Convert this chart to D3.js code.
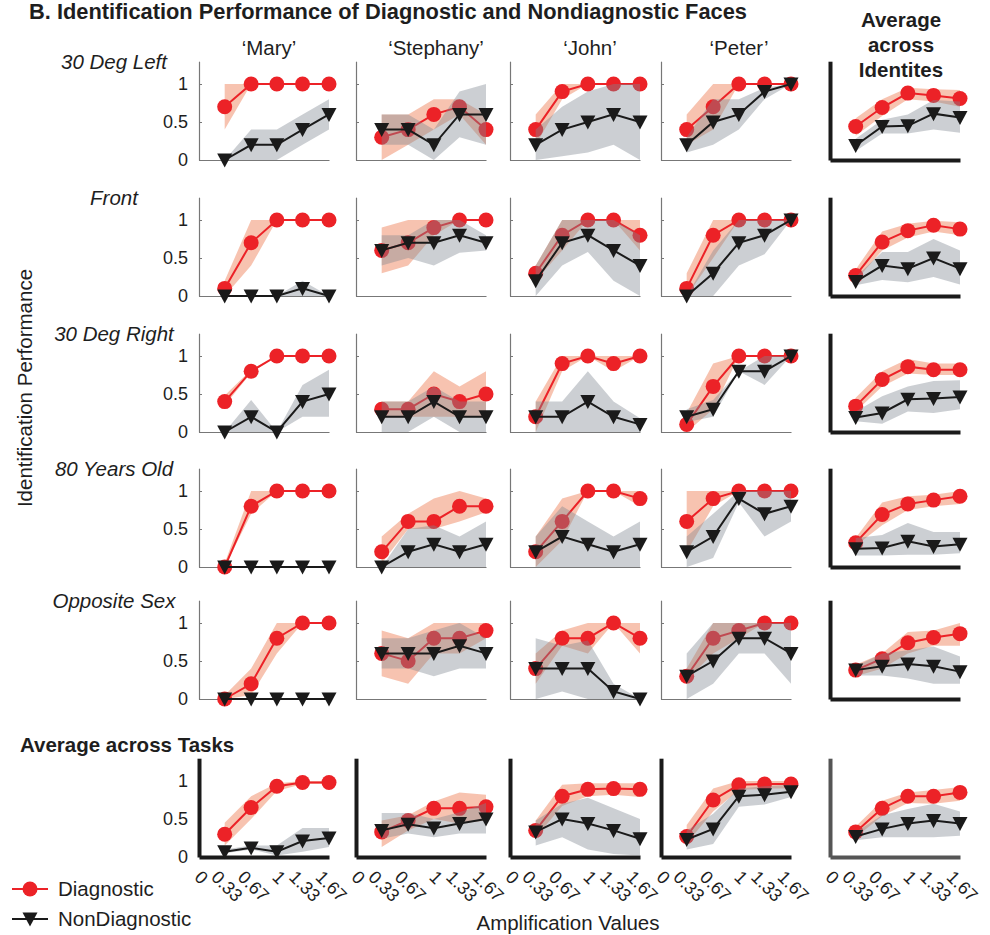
<!DOCTYPE html>
<html>
<head>
<meta charset="utf-8">
<script src="https://cdn.jsdelivr.net/npm/d3@7"></script>
<style>
body { margin: 0; background: #fff; }
text { font-family: "Liberation Sans", Arial, Helvetica, sans-serif; fill: #1e1e1e; }
</style>
</head>
<body>
<div id="chart"></div>
<script>
// amplification values (x) and tick labels
const ampValues = [0.33, 0.67, 1, 1.33, 1.67];
const ampTicks = [0, 0.33, 0.67, 1, 1.33, 1.67];
const ampTickLabels = ["0", "0.33", "0.67", "1", "1.33", "1.67"];
const perfTicks = [0, 0.5, 1];

const identities = ["\u2018Mary\u2019", "\u2018Stephany\u2019", "\u2018John\u2019", "\u2018Peter\u2019"];
const tasks = ["30 Deg Left", "Front", "30 Deg Right", "80 Years Old", "Opposite Sex"];

// [task row][identity col: Mary, Stephany, John, Peter, Average][amplification]
const diagMean = [
  [[0.7,1,1,1,1],[0.3,0.4,0.6,0.7,0.4],[0.4,0.9,1,1,1],[0.4,0.7,1,1,1],[0.44,0.69,0.88,0.85,0.81]],
  [[0.1,0.7,1,1,1],[0.6,0.7,0.9,1,1],[0.3,0.8,1,1,0.8],[0.1,0.8,1,1,1],[0.27,0.71,0.86,0.93,0.88]],
  [[0.4,0.8,1,1,1],[0.3,0.3,0.5,0.4,0.5],[0.2,0.9,1,0.9,1],[0.1,0.6,1,1,1],[0.34,0.69,0.86,0.82,0.82]],
  [[0,0.8,1,1,1],[0.2,0.6,0.6,0.8,0.8],[0.2,0.6,1,1,0.9],[0.6,0.9,1,1,1],[0.32,0.69,0.83,0.88,0.93]],
  [[0,0.2,0.8,1,1],[0.6,0.5,0.8,0.8,0.9],[0.4,0.8,0.8,1,0.8],[0.3,0.8,0.9,1,1],[0.38,0.53,0.74,0.81,0.86]],
  [[0.3,0.65,0.93,0.98,0.98],[0.33,0.48,0.64,0.64,0.66],[0.35,0.8,0.89,0.9,0.89],[0.27,0.75,0.95,0.96,0.96],[0.33,0.64,0.8,0.8,0.85]]
];
const diagLo = [
  [[0.4,1,1,1,1],[0,0.2,0.4,0.6,0.2],[0.2,0.8,1,1,1],[0.2,0.4,1,1,1],[0.32,0.58,0.8,0.77,0.7]],
  [[0,0.4,1,1,1],[0.3,0.4,0.8,1,1],[0.2,0.6,1,1,0.6],[0,0.5,1,1,1],[0.2,0.6,0.77,0.85,0.8]],
  [[0.35,0.78,1,1,1],[0.2,0.2,0.2,0.2,0.2],[0,0.8,1,0.8,1],[0,0.3,1,1,1],[0.27,0.6,0.77,0.75,0.75]],
  [[0,0.7,1,1,1],[0.05,0.5,0.5,0.6,0.72],[0,0.35,1,1,0.8],[0.2,0.8,1,1,1],[0.28,0.55,0.75,0.8,0.83]],
  [[0,0.05,0.6,1,1],[0.3,0.2,0.6,0.6,0.8],[0.2,0.7,0.6,1,0.6],[0.25,0.6,0.8,1,1],[0.3,0.4,0.6,0.7,0.7]],
  [[0.15,0.5,0.87,0.96,0.96],[0.13,0.35,0.5,0.44,0.48],[0.26,0.67,0.8,0.82,0.79],[0.18,0.6,0.88,0.9,0.9],[0.26,0.54,0.71,0.7,0.74]]
];
const diagHi = [
  [[1,1,1,1,1],[0.6,0.6,0.8,0.8,0.6],[0.6,1,1,1,1],[0.6,1,1,1,1],[0.55,0.8,0.95,0.93,0.92]],
  [[0.2,1,1,1,1],[0.9,1,1,1,1],[0.4,1,1,1,1],[0.3,1,1,1,1],[0.35,0.85,0.95,0.99,0.97]],
  [[0.48,0.82,1,1,1],[0.4,0.4,0.8,0.6,0.8],[0.4,1,1,1,1],[0.25,0.9,1,1,1],[0.45,0.8,0.96,0.9,0.9]],
  [[0.05,1,1,1,1],[0.4,0.7,0.9,1,0.9],[0.4,0.9,1,1,1],[1,1,1,1,1],[0.38,0.85,0.93,0.95,1]],
  [[0.05,0.4,1,1,1],[0.9,0.8,1,1,1],[0.6,0.9,1,1,1],[0.4,1,1,1,1],[0.45,0.6,0.88,0.9,1]],
  [[0.45,0.8,0.97,1,1],[0.48,0.55,0.73,0.85,0.82],[0.48,0.95,0.97,0.97,0.97],[0.42,0.9,1,1,1],[0.4,0.74,0.85,0.88,0.92]]
];
const nonMean = [
  [[0,0.2,0.2,0.4,0.6],[0.4,0.4,0.2,0.6,0.6],[0.2,0.4,0.5,0.6,0.5],[0.2,0.5,0.6,0.9,1],[0.19,0.44,0.45,0.61,0.56]],
  [[0,0,0,0.1,0],[0.6,0.7,0.7,0.8,0.7],[0.2,0.7,0.8,0.6,0.4],[0,0.3,0.7,0.8,1],[0.19,0.4,0.36,0.5,0.36]],
  [[0,0.2,0,0.4,0.5],[0.2,0.2,0.4,0.2,0.2],[0.2,0.2,0.4,0.2,0.1],[0.2,0.3,0.8,0.8,1],[0.19,0.25,0.43,0.44,0.46]],
  [[0,0,0,0,0],[0,0.2,0.3,0.2,0.3],[0.2,0.4,0.3,0.2,0.3],[0.2,0.4,0.9,0.7,0.8],[0.24,0.25,0.34,0.27,0.3]],
  [[0,0,0,0,0],[0.6,0.6,0.6,0.7,0.6],[0.4,0.4,0.4,0.1,0],[0.3,0.5,0.8,0.8,0.6],[0.38,0.43,0.46,0.43,0.36]],
  [[0.07,0.12,0.07,0.21,0.25],[0.35,0.43,0.38,0.44,0.5],[0.33,0.5,0.44,0.35,0.24],[0.23,0.37,0.8,0.82,0.86],[0.27,0.37,0.44,0.48,0.44]]
];
const nonLo = [
  [[0,0,0,0.2,0.4],[0.2,0.2,0,0.3,0.2],[0,0.05,0.1,0.2,0],[0.1,0.2,0.4,0.8,1],[0.12,0.35,0.35,0.4,0.36]],
  [[0,0,0,0,0],[0.4,0.5,0.4,0.57,0.6],[0,0.4,0.58,0.2,0],[0,0,0.4,0.55,1],[0.14,0.21,0.18,0.25,0.15]],
  [[0,0,0,0.2,0.2],[0,0,0.2,0,0],[0,0,0,0,0],[0.13,0.2,0.8,0.62,1],[0.14,0.11,0.27,0.25,0.3]],
  [[0,0,0,0,0],[0,0,0,0,0],[0,0,0,0,0],[0,0.12,0.85,0.4,0.6],[0.15,0.15,0.16,0.16,0.18]],
  [[0,0,0,0,0],[0.4,0.4,0.3,0.4,0.4],[0,0.1,0,0,0],[0,0.2,0.6,0.6,0.2],[0.31,0.31,0.27,0.2,0.2]],
  [[0.05,0.1,0.02,0.07,0.13],[0.24,0.31,0.26,0.31,0.31],[0.15,0.26,0.1,0.04,0.02],[0.1,0.17,0.66,0.69,0.79],[0.22,0.26,0.26,0.26,0.28]]
];
const nonHi = [
  [[0,0.4,0.4,0.6,0.8],[0.6,0.6,0.4,0.9,1],[0.4,0.7,0.9,1,1],[0.3,0.8,0.8,0.95,1],[0.28,0.53,0.6,0.79,0.77]],
  [[0,0,0,0.2,0],[0.8,0.8,1,1,0.8],[0.4,1,1,1,0.8],[0,0.6,1,1,1],[0.25,0.58,0.58,0.75,0.6]],
  [[0,0.42,0,0.62,0.82],[0.4,0.4,0.6,0.4,0.4],[0.4,0.4,0.8,0.4,0.18],[0.3,0.42,0.8,1,1],[0.27,0.47,0.6,0.67,0.68]],
  [[0,0,0,0,0],[0,0.5,0.55,0.4,0.6],[0.4,0.8,0.6,0.4,0.6],[0.4,0.7,1,1,1],[0.38,0.42,0.58,0.46,0.46]],
  [[0,0,0,0,0],[0.8,0.8,0.9,1,0.8],[0.8,0.7,0.77,0.2,0],[0.6,1,1,1,1],[0.43,0.6,0.64,0.69,0.56]],
  [[0.1,0.15,0.15,0.38,0.38],[0.58,0.58,0.5,0.59,0.71],[0.48,0.7,0.78,0.64,0.5],[0.35,0.57,0.9,0.93,0.95],[0.33,0.55,0.63,0.7,0.6]]
];

// layout
const W = 990, H = 935;
const colLeft = [199, 356, 510, 661, 830];
const rowBase = [160, 296, 432, 567, 699, 857];
const panelW = 130, panelH = 98.8;
const titleShift = [5, 15, 15, 13];

const red = "#ec2227", black = "#1a1a1a";

const svg = d3.select("#chart").append("svg").attr("width", W).attr("height", H);

const x = d3.scaleLinear().domain([0, 1.67]).range([0, panelW]);
const y = d3.scaleLinear().domain([0, 1.3]).range([panelH, 0]);

const band = d3.area().x(d => x(d.x)).y0(d => y(d.lo)).y1(d => y(d.hi));
const line = d3.line().x(d => x(d.x)).y(d => y(d.m));
const triangle = "M-7.5,-6.5L7.5,-6.5L0,7.5Z";

function series(mean, lo, hi) {
  return ampValues.map((v, i) => ({ x: v, m: mean[i], lo: lo[i], hi: hi[i] }));
}

function drawPanel(r, c) {
  const g = svg.append("g").attr("transform", `translate(${colLeft[c]},${rowBase[r] - panelH})`);
  const thick = (r === 5 || c === 4);
  const axisColor = thick ? (r === 5 && c === 4 ? "#555" : black) : "#777";
  const axisWidth = thick ? 4 : 1.2;

  // y axis
  const ya = g.append("g").call(
    d3.axisLeft(y).tickValues(perfTicks)
      .tickSize(thick ? 0 : -3).tickSizeOuter(0).tickPadding(11)
      .tickFormat(c === 0 ? d3.format("") : () => "")
  );
  ya.select(".domain").attr("stroke", axisColor).attr("stroke-width", axisWidth);
  ya.selectAll(".tick line").attr("stroke", axisColor);
  ya.selectAll(".tick text").attr("font-size", 18).attr("fill", "#222")
    .style("font-family", "'Liberation Sans', Arial, sans-serif");

  // x axis, rotated labels only under the bottom row
  const xa = g.append("g").attr("transform", `translate(0,${panelH})`).call(
    d3.axisBottom(x).tickValues(r === 5 ? ampTicks : []).tickSize(0).tickSizeOuter(0)
      .tickFormat((d, i) => ampTickLabels[i])
  );
  xa.select(".domain").attr("stroke", axisColor).attr("stroke-width", axisWidth);
  const fs = 18, k = Math.SQRT1_2, asc = 0.72 * fs;
  xa.selectAll(".tick text")
    .attr("y", 0).attr("dy", 0).attr("x", 0)
    .attr("text-anchor", "start")
    .attr("font-size", fs).attr("fill", "#222")
    .style("font-family", "'Liberation Sans', Arial, sans-serif")
    .each(function() {
      // centre the rotated label box under its tick, top edge just below the axis
      const L = this.getComputedTextLength();
      const tx = -(L * k + asc * k) / 2 + 2;
      const ty = 12 + asc * k;
      d3.select(this).attr("transform", `translate(${tx},${ty}) rotate(45)`);
    });

  const dData = series(diagMean[r][c], diagLo[r][c], diagHi[r][c]);
  const nData = series(nonMean[r][c], nonLo[r][c], nonHi[r][c]);

  // diagnostic
  g.append("path").attr("d", band(dData)).attr("fill", "#ee7a50").attr("fill-opacity", 0.45);
  g.append("path").attr("d", line(dData)).attr("fill", "none").attr("stroke", red).attr("stroke-width", 2);
  g.selectAll(".dm").data(dData).join("circle")
    .attr("cx", d => x(d.x)).attr("cy", d => y(d.m)).attr("r", 7.5).attr("fill", red);

  // non diagnostic
  g.append("path").attr("d", band(nData)).attr("fill", "#808890").attr("fill-opacity", 0.4);
  g.append("path").attr("d", line(nData)).attr("fill", "none").attr("stroke", black).attr("stroke-width", 2);
  g.selectAll(".nm").data(nData).join("path")
    .attr("transform", d => `translate(${x(d.x)},${y(d.m)})`).attr("d", triangle).attr("fill", black);
}

for (let r = 0; r < 6; r++) {
  for (let c = 0; c < 5; c++) drawPanel(r, c);
}

// title
svg.append("text").attr("x", 29).attr("y", 19)
  .attr("font-size", 22).attr("font-weight", "bold").attr("fill", "#111")
  .attr("textLength", 718).attr("lengthAdjust", "spacingAndGlyphs")
  .text("B. Identification Performance of Diagnostic and Nondiagnostic Faces");

// identity titles
identities.forEach((t, c) => {
  svg.append("text").attr("x", colLeft[c] + panelW / 2 + titleShift[c]).attr("y", 55)
    .attr("text-anchor", "middle").attr("font-size", 20.5).text(t);
});
["Average", "across", "Identites"].forEach((t, i) => {
  svg.append("text").attr("x", 901).attr("y", 27 + i * 25)
    .attr("text-anchor", "middle").attr("font-size", 20.5).attr("font-weight", "bold").text(t);
});

// task labels
tasks.forEach((t, r) => {
  svg.append("text").attr("x", 114).attr("y", rowBase[r] - panelH + 8)
    .attr("text-anchor", "middle").attr("font-size", 20.5).attr("font-style", "italic").text(t);
});
svg.append("text").attr("x", 20).attr("y", 752)
  .attr("font-size", 20.5).attr("font-weight", "bold").text("Average across Tasks");

// axis titles
svg.append("text").attr("transform", "translate(32,388) rotate(-90)")
  .attr("text-anchor", "middle").attr("font-size", 20.5).text("Identification Performance");
svg.append("text").attr("x", 568).attr("y", 930)
  .attr("text-anchor", "middle").attr("font-size", 20.5).text("Amplification Values");

// legend
const legend = svg.append("g");
legend.append("line").attr("x1", 12).attr("x2", 48).attr("y1", 889).attr("y2", 889)
  .attr("stroke", red).attr("stroke-width", 2);
legend.append("circle").attr("cx", 30).attr("cy", 889).attr("r", 7.5).attr("fill", red);
legend.append("text").attr("x", 58).attr("y", 896).attr("font-size", 20.5).text("Diagnostic");
legend.append("line").attr("x1", 12).attr("x2", 48).attr("y1", 919).attr("y2", 919)
  .attr("stroke", black).attr("stroke-width", 2);
legend.append("path").attr("transform", "translate(30,919)").attr("d", triangle).attr("fill", black);
legend.append("text").attr("x", 58).attr("y", 926).attr("font-size", 20.5).text("NonDiagnostic");
</script>
</body>
</html>
